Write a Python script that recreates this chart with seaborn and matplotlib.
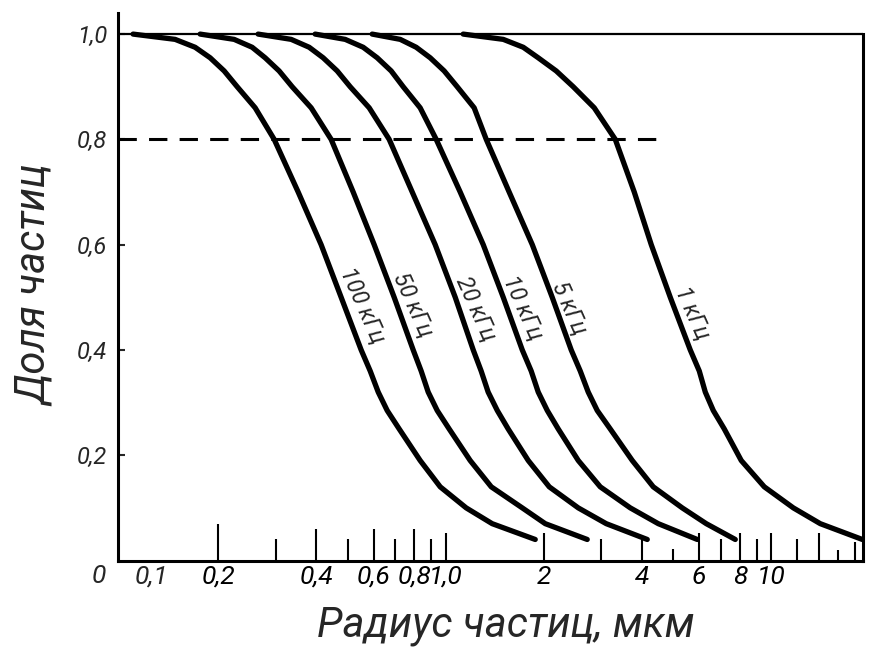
import matplotlib
matplotlib.use('Agg')
import matplotlib.pyplot as plt
import seaborn as sns
import pandas as pd
from matplotlib.ticker import NullFormatter

# fraction of particles (same levels read for every curve)
levels = [1.0, 0.99, 0.975, 0.955, 0.93, 0.9, 0.86, 0.8, 0.7, 0.6,
          0.5, 0.4, 0.36, 0.32, 0.285, 0.25, 0.19, 0.14, 0.1, 0.07, 0.04]

# particle radius, um, read at each level
r_100k = [0.1096, 0.1475, 0.1699, 0.1890, 0.2087, 0.2288, 0.2598, 0.2972, 0.3521, 0.4142,
          0.4772, 0.5497, 0.5860, 0.6201, 0.6607, 0.7192, 0.8342, 0.9612, 1.155, 1.388, 1.882]
r_50k = [0.1761, 0.2239, 0.2543, 0.2788, 0.3078, 0.3375, 0.3860, 0.4446, 0.5195, 0.6027,
         0.6942, 0.7941, 0.8402, 0.8829, 0.9410, 1.024, 1.188, 1.379, 1.717, 2.020, 2.718]
r_20k = [0.2653, 0.3351, 0.3806, 0.4202, 0.4640, 0.5086, 0.5818, 0.6702, 0.7886, 0.9278,
         1.069, 1.214, 1.284, 1.349, 1.439, 1.554, 1.791, 2.078, 2.551, 3.109, 4.155]
r_10k = [0.3971, 0.4909, 0.5576, 0.6157, 0.6797, 0.7399, 0.8342, 0.9344, 1.107, 1.303,
         1.501, 1.717, 1.829, 1.922, 2.049, 2.214, 2.551, 2.980, 3.685, 4.491, 5.917]
r_5k = [0.5943, 0.7244, 0.8111, 0.8956, 0.9887, 1.084, 1.222, 1.331, 1.565, 1.843,
        2.122, 2.427, 2.587, 2.737, 2.917, 3.198, 3.737, 4.335, 5.321, 6.306, 7.741]
r_1k = [1.131, 1.501, 1.729, 1.922, 2.183, 2.462, 2.856, 3.314, 3.790, 4.274,
        4.889, 5.631, 6.002, 6.262, 6.626, 7.161, 8.075, 9.504, 11.67, 14.12, 19.01]

freq_labels = ['100 кГц', '50 кГц', '20 кГц', '10 кГц', '5 кГц', '1 кГц']
label_x = [0.553, 0.789, 1.23, 1.72, 2.38, 5.71]
label_y = [0.485, 0.485, 0.479, 0.48, 0.48, 0.47]

major_ticks = [0.2, 0.4, 0.6, 0.8, 1, 2, 4, 6, 8, 10]
major_labels = ['0,2', '0,4', '0,6', '0,8', '1,0', '2', '4', '6', '8', '10']
minor_ticks = [0.3, 0.5, 0.7, 0.9, 3, 5, 7, 9, 12, 14, 16, 18]
y_ticks = [0.2, 0.4, 0.6, 0.8, 1.0]
y_labels = ['0,2', '0,4', '0,6', '0,8', '1,0']
threshold = 0.8

# tick mark lengths (pt), drawn up from the axis
major_len = [27, 23, 23, 23, 20, 20, 16, 20, 20, 20]
minor_len = [16, 16, 16, 16, 16, 9, 16, 16, 16, 20, 8, 14]

df = pd.DataFrame({
    'r': r_100k + r_50k + r_20k + r_10k + r_5k + r_1k,
    'frac': levels * 6,
    'freq': [f for f in freq_labels for _ in levels],
})

sns.set_style('white')
plt.rcParams['font.family'] = ['Roboto', 'DejaVu Sans']
plt.rcParams['font.style'] = 'italic'

fig = plt.figure(figsize=(8.72, 6.52), dpi=100)
ax = fig.add_axes([0.1353, 0.1403, 0.8544, 0.8397])

sns.lineplot(data=df, x='r', y='frac', hue='freq', palette=['black'] * 6,
             estimator=None, sort=False, legend=False, lw=3.8,
             solid_capstyle='round', solid_joinstyle='round', ax=ax)

ax.set_xscale('log')
ax.set_xlim(0.0985, 19.1)
ax.set_ylim(0, 1.04)

# dashed 0.8 line and top border at 1.0
ax.hlines(threshold, 0.0985, 4.8, colors='black', lw=2.2, linestyles=(0, (6, 4)))
ax.axhline(1.0, color='black', lw=1.6)

for s in ['left', 'bottom', 'right']:
    ax.spines[s].set_visible(True)
    ax.spines[s].set_color('black')
    ax.spines[s].set_linewidth(2.2)
ax.spines['top'].set_visible(False)
ax.spines['right'].set_bounds(0, 1.0)

ax.set_xticks(major_ticks)
ax.set_xticklabels(major_labels, fontsize=19)
ax.set_xticks(minor_ticks, minor=True)
ax.xaxis.set_minor_formatter(NullFormatter())
ax.tick_params(axis='x', which='both', direction='in', width=1.5, pad=3,
               bottom=True, colors='black')
for t, ln in zip(ax.xaxis.get_major_ticks(), major_len):
    t.tick1line.set_markersize(ln)
for t, ln in zip(ax.xaxis.get_minor_ticks(), minor_len):
    t.tick1line.set_markersize(ln)

ax.set_yticks(y_ticks)
ax.set_yticklabels(y_labels, fontsize=17)
ax.tick_params(axis='y', direction='in', length=5, width=1.5, pad=8, left=True)

ax.text(0.125, -0.008, '0,1', transform=ax.get_xaxis_transform(),
        ha='center', va='top', fontsize=19)
ax.text(-0.026, -0.006, '0', transform=ax.transAxes, ha='center', va='top', fontsize=19)

for lx, ly, txt in zip(label_x, label_y, freq_labels):
    ax.text(lx, ly, txt, rotation=-66, rotation_mode='anchor',
            ha='center', va='center', fontsize=16.5)

ax.set_xlabel('Радиус частиц, мкм', fontsize=30)
ax.set_ylabel('Доля частиц', fontsize=30)
ax.xaxis.set_label_coords(0.52, -0.082)
ax.yaxis.set_label_coords(-0.084, 0.503)

fig.savefig('out.png', dpi=100)
